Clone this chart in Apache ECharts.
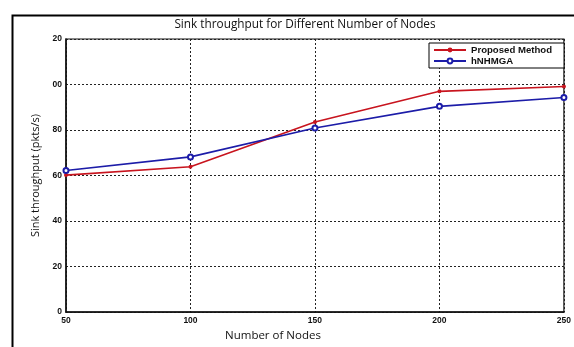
<!DOCTYPE html>
<html>
<head>
<meta charset="utf-8">
<script src="https://cdn.jsdelivr.net/npm/echarts@6/dist/echarts.min.js"></script>
<style>
  html, body { margin: 0; padding: 0; background: #fff; }
  #chart { width: 574px; height: 347px; }
</style>
</head>
<body>
<div id="chart"></div>
<script>
// Number of nodes in the network
const nodes = [50, 100, 150, 200, 250];
// Sink throughput (pkts/s) per method
const proposed = [60.2, 63.9, 83.5, 97.0, 99.1];
const hnhmga = [62.2, 68.2, 80.9, 90.4, 94.3];
// Y tick labels as printed on the axis
const yTickLabels = ['0', '20', '40', '60', '80', '00', '20'];

const chart = echarts.init(document.getElementById('chart'));

const tickFont = { fontFamily: 'Liberation Sans, Arial', fontWeight: 'bold', fontSize: 8.5, color: '#111' };

chart.setOption({
  animation: false,
  backgroundColor: '#fff',
  title: {
    text: 'Sink throughput for Different Number of Nodes',
    left: 300, top: 14, textAlign: 'center',
    textStyle: { fontFamily: 'Open Sans', fontWeight: 'normal', fontSize: 11.8, color: '#111' }
  },
  graphic: [{
    type: 'rect', left: 10, top: 13, silent: true,
    shape: { width: 700, height: 500 },
    style: { fill: 'none', stroke: '#000', lineWidth: 2 }
  }],
  legend: {
    orient: 'vertical', left: 429, top: 43,
    padding: [2, 12, 2, 4], itemGap: 1, itemWidth: 32, itemHeight: 6,
    backgroundColor: '#fff', borderColor: '#000', borderWidth: 1,
    textStyle: { fontFamily: 'Liberation Sans, Arial', fontWeight: 'bold', fontSize: 9.6, color: '#111' },
    data: ['Proposed Method', 'hNHMGA']
  },
  grid: {
    left: 66, top: 39, width: 501, height: 276,
    show: true, borderColor: '#111', borderWidth: 1.2, backgroundColor: '#fff'
  },
  xAxis: {
    type: 'value', min: 50, max: 250, interval: 50,
    name: 'Number of Nodes', nameLocation: 'middle', nameGap: 17,
    nameTextStyle: { fontFamily: 'Open Sans', fontSize: 11.5, color: '#111', padding: [0, 0, 0, -84] },
    axisLine: { lineStyle: { color: '#111', width: 1.5 } },
    axisTick: { show: false },
    axisLabel: Object.assign({ margin: 4 }, tickFont),
    splitLine: { show: true, lineStyle: { color: '#222', type: [2, 2], width: 1 } }
  },
  yAxis: {
    type: 'value', min: 0, max: 120, interval: 20,
    name: 'Sink throughput (pkts/s)', nameLocation: 'middle', nameGap: 25, nameRotate: 90,
    nameTextStyle: { fontFamily: 'Open Sans', fontSize: 11, color: '#111' },
    axisLine: { lineStyle: { color: '#111', width: 1.5 } },
    axisTick: { show: false },
    axisLabel: Object.assign({ margin: 4, formatter: v => yTickLabels[Math.round(v / 20)] }, tickFont),
    splitLine: { show: true, lineStyle: { color: '#222', type: [2, 2], width: 1 } }
  },
  series: [
    {
      name: 'Proposed Method', type: 'line',
      data: nodes.map((n, i) => [n, proposed[i]]),
      color: '#c8141e',
      lineStyle: { width: 1.6, color: '#c8141e' },
      symbol: 'circle', symbolSize: 4,
      itemStyle: { color: '#c8141e' }
    },
    {
      name: 'hNHMGA', type: 'line',
      data: nodes.map((n, i) => [n, hnhmga[i]]),
      color: '#1c1ca8',
      lineStyle: { width: 1.6, color: '#1c1ca8' },
      symbol: 'emptyCircle', symbolSize: 5,
      itemStyle: { color: '#1c1ca8', borderColor: '#1c1ca8', borderWidth: 1.3 }
    }
  ]
});
</script>
</body>
</html>
